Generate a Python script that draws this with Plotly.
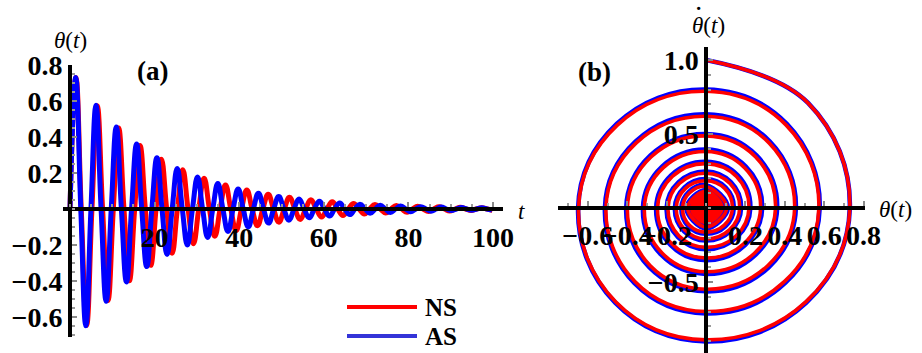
import plotly.graph_objects as go

W, H = 922, 353

# ---------------- Panel (a): theta(t) ----------------
# AS (blue) : times / values of the extrema and the zero crossings
as_ext_t = [1.35, 3.75, 6.15, 8.55, 10.95, 13.35, 15.75, 18.15, 20.55, 22.95, 25.35, 27.75,
            30.15, 32.55, 34.95, 37.35, 39.75, 42.15, 44.55, 46.95, 49.35, 51.75, 54.15, 56.55,
            58.95, 61.35, 63.75, 66.15, 68.55, 70.95, 73.35, 75.75, 78.15, 80.55, 82.95, 85.35,
            87.75, 90.15, 92.55, 94.95, 97.35, 99.75]
as_ext_theta = [0.730, -0.649, 0.577, -0.513, 0.456, -0.405, 0.361, -0.320, 0.285, -0.253,
                0.225, -0.200, 0.178, -0.158, 0.141, -0.125, 0.111, -0.099, 0.088, -0.078,
                0.069, -0.062, 0.055, -0.049, 0.043, -0.039, 0.034, -0.031, 0.027, -0.024,
                0.021, -0.019, 0.017, -0.015, 0.013, -0.012, 0.011, -0.009, 0.008, -0.007,
                0.007, -0.006]
as_zero_t = [0.0, 2.55, 4.95, 7.35, 9.75, 12.15, 14.55, 16.95, 19.35, 21.75, 24.15, 26.55,
             28.95, 31.35, 33.75, 36.15, 38.55, 40.95, 43.35, 45.75, 48.15, 50.55, 52.95, 55.35,
             57.75, 60.15, 62.55, 64.95, 67.35, 69.75, 72.15, 74.55, 76.95, 79.35, 81.75, 84.15,
             86.55, 88.95, 91.35, 93.75, 96.15, 98.55]

# NS (red)
ns_ext_t = [1.40, 3.93, 6.45, 8.98, 11.50, 14.03, 16.55, 19.08, 21.60, 24.13, 26.65, 29.18,
            31.70, 34.23, 36.75, 39.28, 41.80, 44.33, 46.85, 49.38, 51.90, 54.43, 56.95, 59.48,
            62.00, 64.53, 67.05, 69.58, 72.10, 74.63, 77.15, 79.68, 82.20, 84.73, 87.25, 89.78,
            92.30, 94.83, 97.35, 99.88]
ns_ext_theta = [0.730, -0.647, 0.573, -0.508, 0.450, -0.399, 0.353, -0.313, 0.277, -0.246,
                0.218, -0.193, 0.171, -0.151, 0.134, -0.119, 0.105, -0.093, 0.082, -0.073,
                0.065, -0.058, 0.051, -0.045, 0.040, -0.036, 0.031, -0.028, 0.025, -0.022,
                0.020, -0.018, 0.015, -0.014, 0.012, -0.011, 0.010, -0.008, 0.007, -0.007]
ns_zero_t = [0.0, 2.66, 5.19, 7.71, 10.24, 12.76, 15.29, 17.81, 20.34, 22.86, 25.39, 27.91,
             30.44, 32.96, 35.49, 38.01, 40.54, 43.06, 45.59, 48.11, 50.64, 53.16, 55.69, 58.21,
             60.74, 63.26, 65.79, 68.31, 70.84, 73.36, 75.89, 78.41, 80.94, 83.46, 85.99, 88.51,
             91.04, 93.56, 96.09, 98.61]

# ---------------- Panel (b): phase portrait (theta, theta') ----------------
# theta' where theta crosses zero
as_dtheta = [1.0, -0.901, 0.801, -0.712, 0.633, -0.563, 0.500, -0.445, 0.395, -0.352, 0.312,
             -0.278, 0.247, -0.220, 0.195, -0.174, 0.154, -0.137, 0.122, -0.109, 0.096, -0.085,
             0.077, -0.068, 0.060, -0.053, 0.048, -0.042, 0.038, -0.033, 0.030, -0.026, 0.023,
             -0.021, 0.019, -0.016, 0.015, -0.014, 0.011, -0.010, 0.009, -0.009]
ns_dtheta = [1.0, -0.891, 0.789, -0.699, 0.620, -0.549, 0.487, -0.431, 0.382, -0.338, 0.300,
             -0.266, 0.235, -0.209, 0.184, -0.163, 0.145, -0.128, 0.113, -0.100, 0.089, -0.079,
             0.071, -0.062, 0.055, -0.049, 0.044, -0.038, 0.034, -0.031, 0.027, -0.024, 0.022,
             -0.018, 0.017, -0.015, 0.013, -0.012, 0.010, -0.009]
# diagonal passes of the outer turns (before / after each theta extremum)
as_pre_theta = [0.518, -0.461, 0.410, -0.364, 0.324, -0.288, 0.256, -0.227, 0.202, -0.180,
                0.160, -0.142, 0.126, -0.112, 0.100, -0.089]
as_pre_dtheta = [0.710, -0.640, 0.569, -0.506, 0.449, -0.400, 0.355, -0.316, 0.280, -0.250,
                 0.222, -0.197, 0.175, -0.156, 0.138, -0.124]
as_post_theta = [0.508, -0.452, 0.402, -0.357, 0.318, -0.282, 0.251, -0.223, 0.198, -0.176,
                 0.157, -0.139, 0.124, -0.110, 0.098, -0.087]
as_post_dtheta = [-0.640, 0.569, -0.506, 0.449, -0.400, 0.355, -0.316, 0.280, -0.250, 0.222,
                  -0.197, 0.175, -0.156, 0.138, -0.124, 0.109]
ns_pre_theta = [0.518, -0.459, 0.407, -0.361, 0.320, -0.283, 0.251, -0.222, 0.197, -0.175,
                0.155, -0.137, 0.121, -0.107, 0.095, -0.084]
ns_pre_dtheta = [0.710, -0.633, 0.560, -0.496, 0.440, -0.390, 0.346, -0.306, 0.271, -0.240,
                 0.213, -0.189, 0.167, -0.148, 0.131, -0.116]
ns_post_theta = [0.508, -0.450, 0.399, -0.354, 0.313, -0.278, 0.246, -0.218, 0.193, -0.171,
                 0.152, -0.134, 0.119, -0.105, 0.093, -0.083]
ns_post_dtheta = [-0.633, 0.560, -0.496, 0.440, -0.390, 0.346, -0.306, 0.271, -0.240, 0.213,
                  -0.189, 0.167, -0.148, 0.131, -0.116, 0.103]

a_xticks = [20, 40, 60, 80, 100]
a_yticks = [-0.6, -0.4, -0.2, 0.2, 0.4, 0.6, 0.8]
b_xticks = [-0.6, -0.4, -0.2, 0.2, 0.4, 0.6, 0.8]
b_yticks = [-0.5, 0.5, 1.0]
legend_names = ["NS", "AS"]

RED = "#ff0000"
BLUE = "#0000ff"
LEG_BLUE = "#3434d8"
FONT = "Liberation Serif"


def time_series(zero_t, ext_t, ext_v):
    xs, ys = [], []
    for zt, et, ev in zip(zero_t, ext_t, ext_v):
        xs += [zt, et]
        ys += [0.0, ev]
    return xs, ys


def phase_series(dth, ext_th, pre_th, pre_dth, post_th, post_dth):
    xs, ys = [], []
    for i, (d, e) in enumerate(zip(dth, ext_th)):
        xs.append(0.0)
        ys.append(d)
        if i < len(pre_th):
            xs.append(pre_th[i])
            ys.append(pre_dth[i])
        xs.append(e)
        ys.append(0.0)
        if i < len(post_th):
            xs.append(post_th[i])
            ys.append(post_dth[i])
    return xs, ys


as_t, as_th = time_series(as_zero_t, as_ext_t, as_ext_theta)
ns_t, ns_th = time_series(ns_zero_t, ns_ext_t, ns_ext_theta)
as_px, as_py = phase_series(as_dtheta, as_ext_theta, as_pre_theta, as_pre_dtheta,
                            as_post_theta, as_post_dtheta)
ns_px, ns_py = phase_series(ns_dtheta, ns_ext_theta, ns_pre_theta, ns_pre_dtheta,
                            ns_post_theta, ns_post_dtheta)

fig = go.Figure()
fig.add_trace(go.Scatter(x=ns_t, y=ns_th, mode="lines", name="NS", showlegend=False,
                         line=dict(color=RED, width=5, shape="spline", smoothing=1.3),
                         xaxis="x", yaxis="y"))
fig.add_trace(go.Scatter(x=as_t, y=as_th, mode="lines", name="AS", showlegend=False,
                         line=dict(color=BLUE, width=5, shape="spline", smoothing=1.3),
                         xaxis="x", yaxis="y"))
fig.add_trace(go.Scatter(x=as_px, y=as_py, mode="lines", name="AS", showlegend=False,
                         line=dict(color=BLUE, width=4.6, shape="spline", smoothing=1.15),
                         xaxis="x2", yaxis="y2"))
fig.add_trace(go.Scatter(x=ns_px, y=ns_py, mode="lines", name="NS", showlegend=False,
                         line=dict(color=RED, width=3.6, shape="spline", smoothing=1.15),
                         xaxis="x2", yaxis="y2"))


def px(x):
    return x / W


def py(y):
    return 1 - y / H


def fmt(v):
    return "<b>" + f"{v:.1f}".replace("-", "\u2212") + "</b>"


tickfont = dict(family=FONT, size=28, color="black")
common = dict(showgrid=False, zeroline=False, showline=True, linecolor="black",
              ticks="inside", tickcolor="#8a8a8a", tickwidth=1.5, ticklen=5,
              tickfont=tickfont, tickangle=0, anchor="free", fixedrange=True,
              automargin=False)

# panel (a) pixel geometry
a_x0, a_x1, a_t0pix, a_tscale = 63, 503, 70, 4.23
a_y0, a_y1, a_th0pix, a_thscale = 65, 337, 209, 180
# panel (b)
b_x0, b_x1, b_0xpix, b_xscale = 558, 865, 706, 197
b_y0, b_y1, b_0ypix, b_yscale = 47, 353, 208, 148

fig.update_layout(
    width=W, height=H, margin=dict(l=0, r=0, t=0, b=0, pad=0, autoexpand=False),
    paper_bgcolor="white", plot_bgcolor="rgba(0,0,0,0)", showlegend=False,
    font=dict(family=FONT, color="black"),
    xaxis=dict(common, domain=[px(a_x0), px(a_x1)],
               range=[(a_x0 - a_t0pix) / a_tscale, (a_x1 - a_t0pix) / a_tscale],
               position=py(a_th0pix), linewidth=4, ticklabelstandoff=2,
               tickvals=a_xticks, ticktext=[f"<b>{v}</b>" for v in a_xticks],
               minor=dict(ticks="inside", dtick=5, ticklen=3, tickcolor="#9a9a9a")),
    yaxis=dict(common, domain=[py(a_y1), py(a_y0)],
               range=[(a_th0pix - a_y1) / a_thscale, (a_th0pix - a_y0) / a_thscale],
               position=px(a_t0pix), linewidth=4,
               tickvals=a_yticks, ticktext=[fmt(v) for v in a_yticks],
               minor=dict(ticks="inside", dtick=0.05, ticklen=3, tickcolor="#9a9a9a")),
    xaxis2=dict(common, domain=[px(b_x0), px(b_x1)],
                range=[(b_x0 - b_0xpix) / b_xscale, (b_x1 - b_0xpix) / b_xscale],
                position=py(b_0ypix), linewidth=3.5, ticklabelstandoff=2,
                tickvals=b_xticks, ticktext=[fmt(v) for v in b_xticks],
                minor=dict(ticks="inside", dtick=0.1, ticklen=3, tickcolor="#9a9a9a")),
    yaxis2=dict(common, domain=[py(b_y1), py(b_y0)],
                range=[(b_0ypix - b_y1) / b_yscale, (b_0ypix - b_y0) / b_yscale],
                position=px(b_0xpix), linewidth=3.5,
                tickvals=b_yticks, ticktext=[fmt(v) for v in b_yticks],
                minor=dict(ticks="inside", dtick=0.1, ticklen=3, tickcolor="#9a9a9a")),
)

# legend keys (bottom-centre box)
leg_rows = [(307, RED), (336, LEG_BLUE)]
shapes = []
annotations = []
for name, (yy, col) in zip(legend_names, leg_rows):
    shapes.append(dict(type="line", xref="paper", yref="paper",
                       x0=px(347), x1=px(417), y0=py(yy), y1=py(yy),
                       line=dict(color=col, width=4)))
    annotations.append(dict(x=px(423), y=py(yy), text=f"<b>{name}</b>", xanchor="left",
                            font=dict(family=FONT, size=25, color="black")))

ann_font = dict(family=FONT, size=23, color="black")
annotations += [
    dict(x=px(70), y=py(41), text="<i>θ</i>(<i>t</i>)", font=ann_font),
    dict(x=px(521), y=py(211), text="<i>t</i>", font=ann_font),
    dict(x=px(152), y=py(71), text="<b>(a)</b>", font=dict(family=FONT, size=27, color="black")),
    dict(x=px(594), y=py(72), text="<b>(b)</b>", font=dict(family=FONT, size=27, color="black")),
    dict(x=px(708), y=py(25), text="<i>θ</i>(<i>t</i>)", font=ann_font),
    dict(x=px(698), y=1.0, text="<b>˙</b>", yanchor="top",
         font=dict(family=FONT, size=22, color="black")),
    dict(x=px(895), y=py(210), text="<i>θ</i>(<i>t</i>)", font=ann_font),
]
for a in annotations:
    a.setdefault("xanchor", "center")
    a.setdefault("yanchor", "middle")
    a.update(xref="paper", yref="paper", showarrow=False)
fig.update_layout(annotations=annotations, shapes=shapes)

fig.write_html("out.html", config={"displayModeBar": False},
               post_script="document.body.style.margin='0px';document.body.style.overflow='hidden';")
